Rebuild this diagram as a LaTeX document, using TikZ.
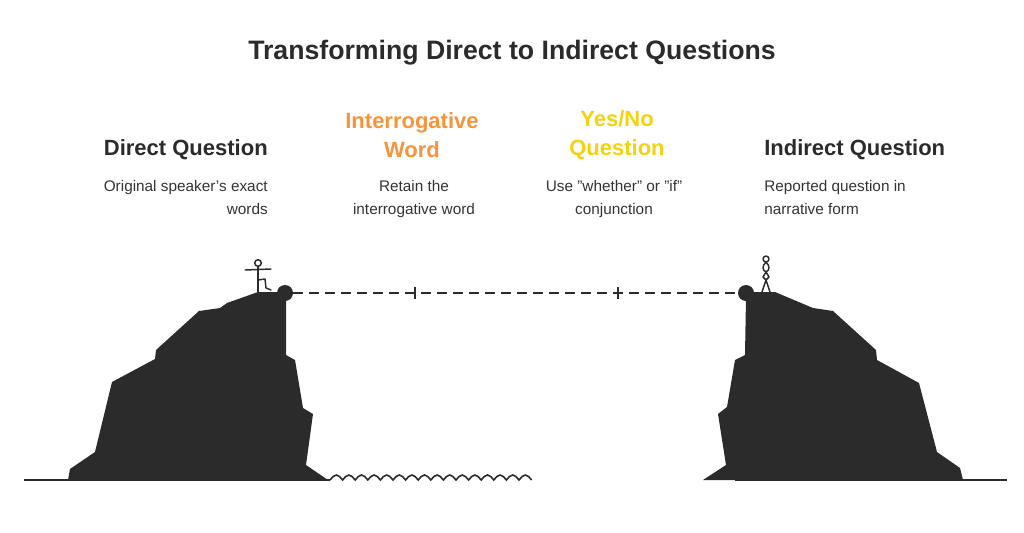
\documentclass[tikz,border=0pt]{standalone}
\usepackage{fontspec}
\setmainfont{Liberation Sans}
\begin{document}
\begin{tikzpicture}[x=0.75pt,y=-0.75pt,
  rock/.style={fill=rockc,draw=none},
  head/.style={font=\bfseries\fontsize{16.5}{22}\selectfont,align=center,inner sep=0pt},
  body/.style={font=\fontsize{11.5}{17}\selectfont,text=txt,inner sep=0pt},
  fig/.style={draw=rockc,line width=1.1pt,line cap=round,line join=round}]
\definecolor{rockc}{HTML}{2B2B2B}
\definecolor{txt}{HTML}{333333}
\definecolor{orng}{HTML}{F7933B}
\definecolor{yelw}{HTML}{F4D20E}
\useasboundingbox (0,0) rectangle (1024,532);
\node[font=\bfseries\fontsize{20}{24}\selectfont,text=rockc] (title) at (512,53) {Transforming Direct to Indirect Questions};
% cliffs
\fill[rock] (68,480) -- (70,469) -- (95,452) -- (112,382) -- (155,359) -- (156,350) -- (199,311) -- (220,308) -- (227,303) -- (258,292) -- (285,292) -- (286,300) -- (286,355) -- (295,360) -- (303,408) -- (313,414) -- (306,465) -- (328,480) -- cycle;
\fill[rock] (703,480) -- (726,465) -- (718,414) -- (727,407) -- (735,360) -- (745,355) -- (746,297) -- (746,292) -- (775,292) -- (813,308) -- (833,311) -- (876,350) -- (877,360) -- (919,383) -- (937,452) -- (960,468) -- (963,480) -- cycle;
\node[circle,fill=rockc,minimum size=12pt,inner sep=0pt] (lb) at (285,293) {};
\node[circle,fill=rockc,minimum size=12pt,inner sep=0pt] (rb) at (746,293) {};
\draw[rockc,line width=1.6pt,dash pattern=on 7pt off 5pt] (lb) -- (rb);
\coordinate (t1) at (415,293); \coordinate (t2) at (618,293);
\draw[rockc,line width=1.6pt] ([yshift=-4.5pt]t1) -- ([yshift=4.5pt]t1);
\draw[rockc,line width=1.6pt] ([yshift=-4.5pt]t2) -- ([yshift=4.5pt]t2);
% ground
\draw[rockc,line width=1.4pt] (24,480) -- (330,480);
\draw[rockc,line width=1.4pt] (735,480) -- (1007,480);
\draw[rockc,line width=1.2pt] (330,480) \foreach \i in {0,...,15} { -- ++(0,0) sin ++(6.3,-5) cos ++(6.3,5) } ;
% left stick figure
\draw[fig] (258,263) circle (3.3);
\draw[fig] (258,266.5) -- (258,284) -- (258,292);
\draw[fig] (245,270) -- (271,269);
\draw[fig] (258,280) -- (265,279) -- (266,288) -- (271,290);
% right stick figure
\draw[fig] (766,259) circle (3);
\draw[fig] (766,262) .. controls (762,266) and (762,270) .. (766,272) .. controls (770,270) and (770,266) .. (766,262);
\draw[fig] (766,272) -- (763,277) -- (766,280);
\draw[fig] (766,272) -- (769,277) -- (766,280);
\draw[fig] (766,280) -- (762,292);
\draw[fig] (766,280) -- (770,292);
% texts
\node[head,text=rockc,anchor=east] (h1) at (268,150) {Direct Question};
\node[body,anchor=north east,align=right] (b1) at (268,180) {Original speaker's exact\\words};
\node[head,text=orng] (h2) at (412,135) {Interrogative\\Word};
\node[body,anchor=north,align=center] (b2) at (414,180) {Retain the\\interrogative word};
\node[head,text=yelw] (h3) at (617,135) {Yes/No\\Question};
\node[body,anchor=north,align=center] (b3) at (614,180) {Use "whether" or "if"\\conjunction};
\node[head,text=rockc,anchor=west] (h4) at (764,150) {Indirect Question};
\node[body,anchor=north west,align=left] (b4) at (764,180) {Reported question in\\narrative form};
\end{tikzpicture}
\end{document}
